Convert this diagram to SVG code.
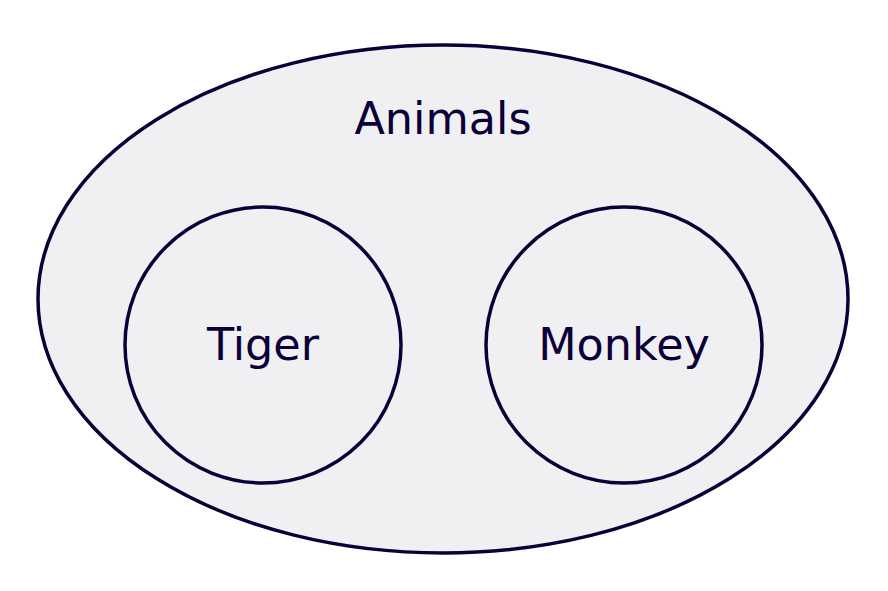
<svg xmlns="http://www.w3.org/2000/svg" width="888" height="591" viewBox="0 0 888 591">
<style>
.shape{fill:#f0f0f3;stroke:#0b0038;stroke-width:3.5}
.lbl{font-family:"DejaVu Sans",sans-serif;font-size:44.5px;fill:#0b0038;text-anchor:middle}
</style>
<rect width="888" height="591" fill="#ffffff"/>
<g id="animals">
<ellipse class="shape" cx="443" cy="299" rx="405" ry="254"/>
<text class="lbl" x="443" y="134">Animals</text>
</g>
<g id="tiger">
<circle class="shape" cx="263" cy="345" r="138"/>
<text class="lbl" x="263" y="360">Tiger</text>
</g>
<g id="monkey">
<circle class="shape" cx="624" cy="345" r="138"/>
<text class="lbl" x="624" y="360">Monkey</text>
</g>
<g id="connectors"></g>
</svg>
